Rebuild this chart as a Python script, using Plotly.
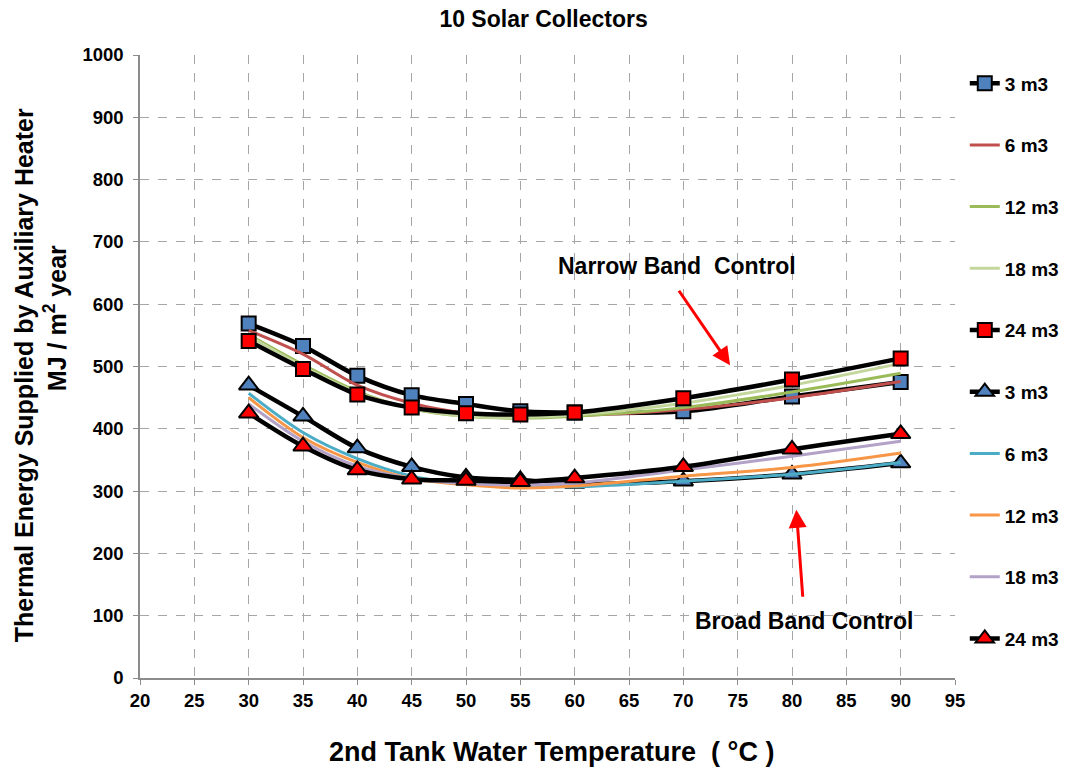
import plotly.graph_objects as go

# Second-tank water temperature (°C)
temps = [30, 35, 40, 45, 50, 55, 60, 70, 80, 90]

# Auxiliary heater energy, MJ / m² year — narrow band control
narrow_3 = [569, 533, 485, 454, 440, 428, 426, 428, 452, 475]
narrow_6 = [558, 520, 470, 441, 425, 420, 421, 431, 450, 476]
narrow_12 = [551, 503, 460, 432, 420, 417, 420, 434, 459, 489]
narrow_18 = [549, 500, 458, 433, 420, 418, 422, 441, 470, 505]
narrow_24 = [541, 496, 455, 434, 425, 423, 426, 449, 479, 513]

# Broad band control
broad_3 = [470, 420, 369, 339, 322, 318, 312, 316, 327, 345]
broad_6 = [457, 394, 352, 324, 312, 308, 307, 316, 327, 346]
broad_12 = [450, 386, 346, 320, 310, 305, 308, 324, 338, 361]
broad_18 = [440, 380, 340, 320, 312, 310, 313, 334, 356, 380]
broad_24 = [425, 372, 334, 319, 317, 315, 321, 339, 367, 392]

x_ticks = list(range(20, 100, 5))
y_ticks = list(range(0, 1100, 100))

FONT = "Liberation Sans, Arial, sans-serif"
BLUE = "#4F81BD"
RED = "#FF0000"

series = [
    ("3 m3", narrow_3, "black", 4.5, "square", BLUE),
    ("6 m3", narrow_6, "#C0504D", 3, None, None),
    ("12 m3", narrow_12, "#9BBB59", 3, None, None),
    ("18 m3", narrow_18, "#C3D69B", 3, None, None),
    ("24 m3", narrow_24, "black", 4.5, "square", RED),
    ("3 m3", broad_3, "black", 4.5, "triangle-up", BLUE),
    ("6 m3", broad_6, "#4BACC6", 3, None, None),
    ("12 m3", broad_12, "#F79646", 3, None, None),
    ("18 m3", broad_18, "#B3A2C7", 3, None, None),
    ("24 m3", broad_24, "black", 4.5, "triangle-up", RED),
]

fig = go.Figure()
for i, (name, vals, color, width, symbol, fill) in enumerate(series):
    kw = dict(
        x=temps, y=vals, name=name, legendgroup=f"g{i}",
        line=dict(color=color, width=width, shape="spline", smoothing=0.9),
    )
    if symbol:
        kw["mode"] = "lines+markers"
        kw["marker"] = dict(symbol=symbol, size=14 if symbol == "square" else 17,
                            color=fill, line=dict(color="black", width=2))
    else:
        kw["mode"] = "lines"
    fig.add_trace(go.Scatter(**kw))

axis_common = dict(
    showgrid=True, gridcolor="#A6A6A6", griddash="dash", gridwidth=1,
    showline=True, linecolor="#8C8C8C", linewidth=1.5,
    ticks="outside", ticklen=5, tickcolor="#8C8C8C",
    tickfont=dict(family=FONT, size=18.5, color="black", weight="bold"),
    zeroline=False,
)

fig.update_xaxes(range=[20, 95], tickvals=x_ticks, **axis_common)
fig.update_yaxes(range=[0, 1000], tickvals=y_ticks, ticklabelstandoff=6, **axis_common)

TITLE_FONT = dict(family=FONT, size=25, weight="bold", color="black")
XTITLE_FONT = dict(family=FONT, size=27, weight="bold", color="black")
NOTE_FONT = dict(family=FONT, size=23, weight="bold", color="black")

annos = [
    dict(text="Thermal Energy Supplied by Auxiliary Heater", x=-0.1423, y=0.486,
         xref="paper", yref="paper", textangle=-90, showarrow=False,
         xanchor="center", yanchor="middle", font=TITLE_FONT),
    dict(text="MJ / m<sup>2</sup> year", x=-0.104, y=0.578,
         xref="paper", yref="paper", textangle=-90, showarrow=False,
         xanchor="center", yanchor="middle", font=TITLE_FONT),
    dict(text="2nd Tank Water Temperature  ( °C )", x=0.5055, y=-0.118,
         xref="paper", yref="paper", showarrow=False, xanchor="center",
         yanchor="middle", font=XTITLE_FONT),
    dict(text="Narrow Band  Control", x=69.38, y=662, xref="x", yref="y",
         showarrow=False, font=NOTE_FONT),
    dict(text="Broad Band Control", x=81.14, y=91, xref="x", yref="y",
         showarrow=False, font=NOTE_FONT),
    dict(text="", x=74.3, y=502, ax=69.5, ay=624, xref="x", yref="y",
         axref="x", ayref="y", showarrow=True, arrowhead=2, arrowsize=1.2,
         arrowwidth=3, arrowcolor="red"),
    dict(text="", x=80.4, y=270, ax=81.0, ay=128, xref="x", yref="y",
         axref="x", ayref="y", showarrow=True, arrowhead=2, arrowsize=1.2,
         arrowwidth=3, arrowcolor="red"),
]

fig.update_layout(
    width=1070, height=771,
    margin=dict(l=140, r=115, t=55, b=93, autoexpand=False),
    paper_bgcolor="white", plot_bgcolor="white",
    title=dict(text="10 Solar Collectors", x=0.508, xanchor="center", y=0.975,
               yanchor="middle",
               font=dict(family=FONT, size=23, weight="bold", color="black")),
    showlegend=True,
    legend=dict(x=1.012, xanchor="left", y=0.985, yanchor="top",
                tracegroupgap=34, bgcolor="rgba(0,0,0,0)",
                font=dict(family=FONT, size=19, weight="bold", color="black"),
                itemwidth=30),
    annotations=annos,
)

fig.write_html("out.html")
